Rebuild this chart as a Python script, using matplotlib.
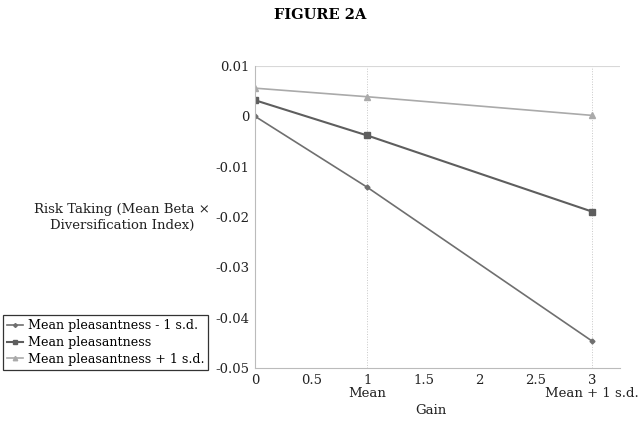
import matplotlib.pyplot as plt
from matplotlib.ticker import FuncFormatter

plt.rcParams['font.family'] = ['DejaVu Serif']

# data
gain = [0, 1, 3]
low_pleas = [0.0, -0.0141, -0.0446]   # mean pleasantness - 1 s.d.
mid_pleas = [0.0032, -0.0038, -0.0189]  # mean pleasantness
high_pleas = [0.0056, 0.0039, 0.0002]  # mean pleasantness + 1 s.d.
labels = ['Mean pleasantness - 1 s.d.', 'Mean pleasantness', 'Mean pleasantness + 1 s.d.']
xticks = [0, 0.5, 1, 1.5, 2, 2.5, 3]
yticks = [0.01, 0, -0.01, -0.02, -0.03, -0.04, -0.05]
cat_names = {1: 'Mean', 3: 'Mean + 1 s.d.'}

fig = plt.figure(figsize=(6.41, 4.26), dpi=100)
ax = fig.add_axes([0.398, 0.136, 0.569, 0.709])

# dotted gridlines at the category points
for x in cat_names:
    ax.axvline(x, color='#c8c8c8', lw=0.7, ls=':', zorder=0)
ax.axhline(0.01, color='#d8d8d8', lw=0.8, zorder=0)

ax.plot(gain, low_pleas, color='#6f6f6f', marker='D', ms=2.5, lw=1.2, label=labels[0])
ax.plot(gain, mid_pleas, color='#5e5e5e', marker='s', ms=4, lw=1.5, label=labels[1])
ax.plot(gain, high_pleas, color='#aaaaaa', marker='^', ms=4, lw=1.2, label=labels[2])

ax.set_xlim(0, 3.25)
ax.set_ylim(-0.05, 0.01)
ax.set_xticks(xticks)
ax.set_yticks(yticks)
ax.xaxis.set_major_formatter(FuncFormatter(lambda v, p: '%g' % v))
ax.yaxis.set_major_formatter(FuncFormatter(lambda v, p: '0' if abs(v) < 1e-9 else '%g' % round(v, 3)))
ax.tick_params(length=0, labelsize=9.5, colors='#222222', pad=4)

for s in ['top', 'right']:
    ax.spines[s].set_visible(False)
for s in ['left', 'bottom']:
    ax.spines[s].set_color('#bbbbbb')
    ax.spines[s].set_linewidth(0.8)

for x, name in cat_names.items():
    ax.text(x, -0.0538, name, ha='center', va='top', fontsize=9.5, color='#222222')

ax.text(0.5 * 3.25 - 0.06, -0.0572, 'Gain', ha='center', va='top', fontsize=9.5, color='#222222')

fig.text(0.5, 0.965, 'FIGURE 2A', ha='center', va='center', fontsize=10.5, fontweight='bold')
fig.text(0.19, 0.49, 'Risk Taking (Mean Beta \u00d7\nDiversification Index)', ha='center', va='center',
         fontsize=9.5, color='#222222', linespacing=1.3)

leg = ax.legend(loc='lower right', bbox_to_anchor=(-0.129, -0.005), fontsize=9.1, frameon=True,
                fancybox=False, borderpad=0.3, labelspacing=0.3, handlelength=1.3,
                handletextpad=0.35, borderaxespad=0, markerscale=0.8)
leg.get_frame().set_edgecolor('#000000')
leg.get_frame().set_linewidth(0.9)

fig.savefig('out.png', dpi=100)
